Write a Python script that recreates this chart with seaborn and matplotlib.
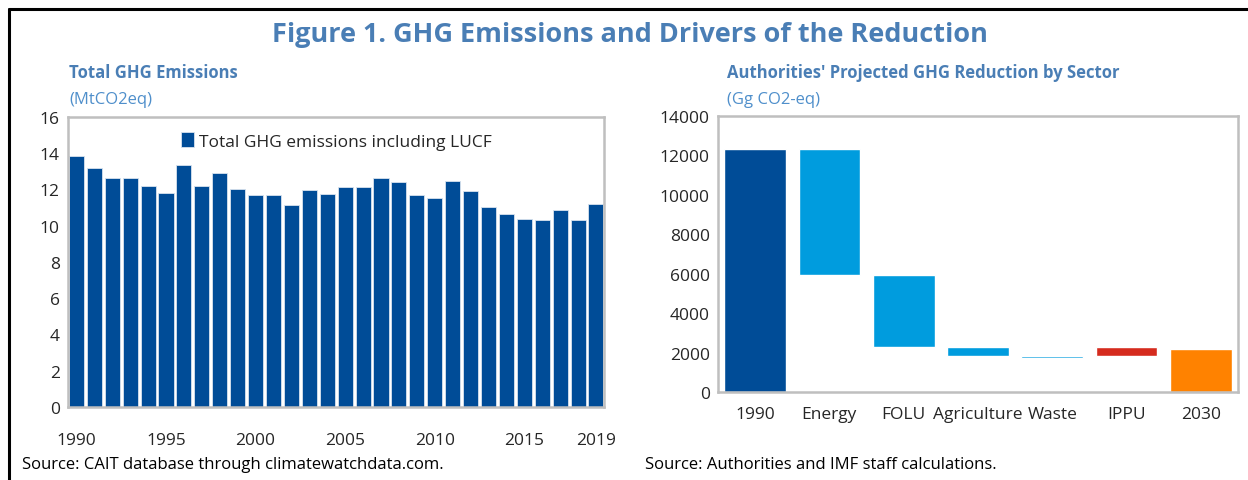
import matplotlib

matplotlib.use("Agg")
import matplotlib.pyplot as plt
import numpy as np
import pandas as pd
import seaborn as sns
from matplotlib.lines import Line2D

# --------------------------------------------------------------------------- #
# Data
# --------------------------------------------------------------------------- #
years = list(range(1990, 2020))
ghg_total = [13.86, 13.18, 12.63, 12.63, 12.17, 11.78, 13.35, 12.19, 12.92, 12.02,
             11.71, 11.71, 11.12, 11.97, 11.75, 12.11, 12.11, 12.61, 12.41, 11.69,
             11.54, 12.46, 11.93, 11.03, 10.64, 10.39, 10.33, 10.85, 10.33, 11.21]
year_ticks = [1990, 1995, 2000, 2005, 2010, 2015, 2019]

sectors = ["1990", "Energy", "FOLU", "Agriculture", "Waste", "IPPU", "2030"]
bar_low = [0, 5920, 2260, 1840, 1720, 1840, 0]
bar_high = [12300, 12300, 5920, 2260, 1840, 2260, 2180]
sector_colors = ["#004C97", "#009CDE", "#009CDE", "#009CDE", "#009CDE", "#D52B1E", "#FF8200"]

# --------------------------------------------------------------------------- #
# Style
# --------------------------------------------------------------------------- #
sns.set_style("white")
plt.rcParams["font.family"] = ["Open Sans", "DejaVu Sans"]
plt.rcParams["font.size"] = 12.5

TITLE_BLUE = "#4A7EB5"
UNIT_BLUE = "#4F8FCB"
FRAME_GREY = "#BFBFBF"

fig = plt.figure(figsize=(12.48, 4.81), dpi=100)

# outer frame: top and left rules
fig.add_artist(Line2D([0.007, 1.0], [0.979, 0.979], color="black", lw=2.2,
                      transform=fig.transFigure))
fig.add_artist(Line2D([0.0075, 0.0075], [0.0, 0.979], color="black", lw=2.2,
                      transform=fig.transFigure))

fig.text(0.505, 0.928, "Figure 1. GHG Emissions and Drivers of the Reduction",
         ha="center", va="center", fontsize=19.5, fontweight="bold", color=TITLE_BLUE)


def style_frame(ax):
    for sp in ax.spines.values():
        sp.set_visible(True)
        sp.set_color(FRAME_GREY)
        sp.set_linewidth(1.8)
    ax.tick_params(axis="y", direction="in", length=4, color=FRAME_GREY,
                   labelsize=12.5, pad=6)
    ax.tick_params(axis="x", length=0, labelsize=12.5)


# --------------------------------------------------------------------------- #
# Left: total emissions
# --------------------------------------------------------------------------- #
ax1 = fig.add_axes([0.0545, 0.152, 0.4295, 0.603])
df = pd.DataFrame({"year": years, "value": ghg_total})
sns.barplot(data=df, x="year", y="value", color="#004C97", width=0.84,
            saturation=1, edgecolor="#D8E2EE", linewidth=0.6, ax=ax1,
            label="Total GHG emissions including LUCF")
ax1.set_xlim(-0.47, len(years) - 0.55)
ax1.set_ylim(0, 16)
ax1.set_yticks(np.arange(0, 17, 2))
ax1.set_xticks([years.index(y) for y in year_ticks])
ax1.set_xticklabels([str(y) for y in year_ticks])
ax1.tick_params(axis="x", pad=18)
ax1.set_xlabel("")
ax1.set_ylabel("")
style_frame(ax1)
ax1.legend(loc="upper center", bbox_to_anchor=(0.5, 1.0), frameon=False,
           handlelength=0.75, handleheight=0.9, handletextpad=0.3, fontsize=12.5)

fig.text(0.0555, 0.848, "Total GHG Emissions", fontsize=12, fontweight="bold",
         color=TITLE_BLUE, va="center")
fig.text(0.0555, 0.792, "(MtCO2eq)", fontsize=12, color=UNIT_BLUE, va="center")
fig.text(0.0175, 0.033, "Source: CAIT database through climatewatchdata.com.",
         fontsize=12, color="black", va="center")

# --------------------------------------------------------------------------- #
# Right: waterfall of projected reduction by sector
# --------------------------------------------------------------------------- #
ax2 = fig.add_axes([0.5753, 0.183, 0.4167, 0.574])
pos = np.arange(len(sectors))
heights = np.array(bar_high) - np.array(bar_low)
ax2.bar(pos, heights, bottom=bar_low, width=0.83, color=sector_colors)
ax2.set_xlim(-0.5, len(sectors) - 0.5)
ax2.set_ylim(0, 14000)
ax2.set_yticks(np.arange(0, 14001, 2000))
ax2.set_xticks(pos)
ax2.set_xticklabels(sectors)
ax2.set_xticks(pos[:-1] + 0.5, minor=True)
style_frame(ax2)
ax2.tick_params(axis="x", which="major", pad=10)
ax2.tick_params(axis="x", which="minor", direction="in", length=4, color=FRAME_GREY,
                width=1.2)

fig.text(0.5825, 0.848, "Authorities' Projected GHG Reduction by Sector", fontsize=12,
         fontweight="bold", color=TITLE_BLUE, va="center")
fig.text(0.5825, 0.792, "(Gg CO2-eq)", fontsize=12, color=UNIT_BLUE, va="center")
fig.text(0.517, 0.033, "Source: Authorities and IMF staff calculations.",
         fontsize=12, color="black", va="center")

fig.savefig("out.png", dpi=100)
